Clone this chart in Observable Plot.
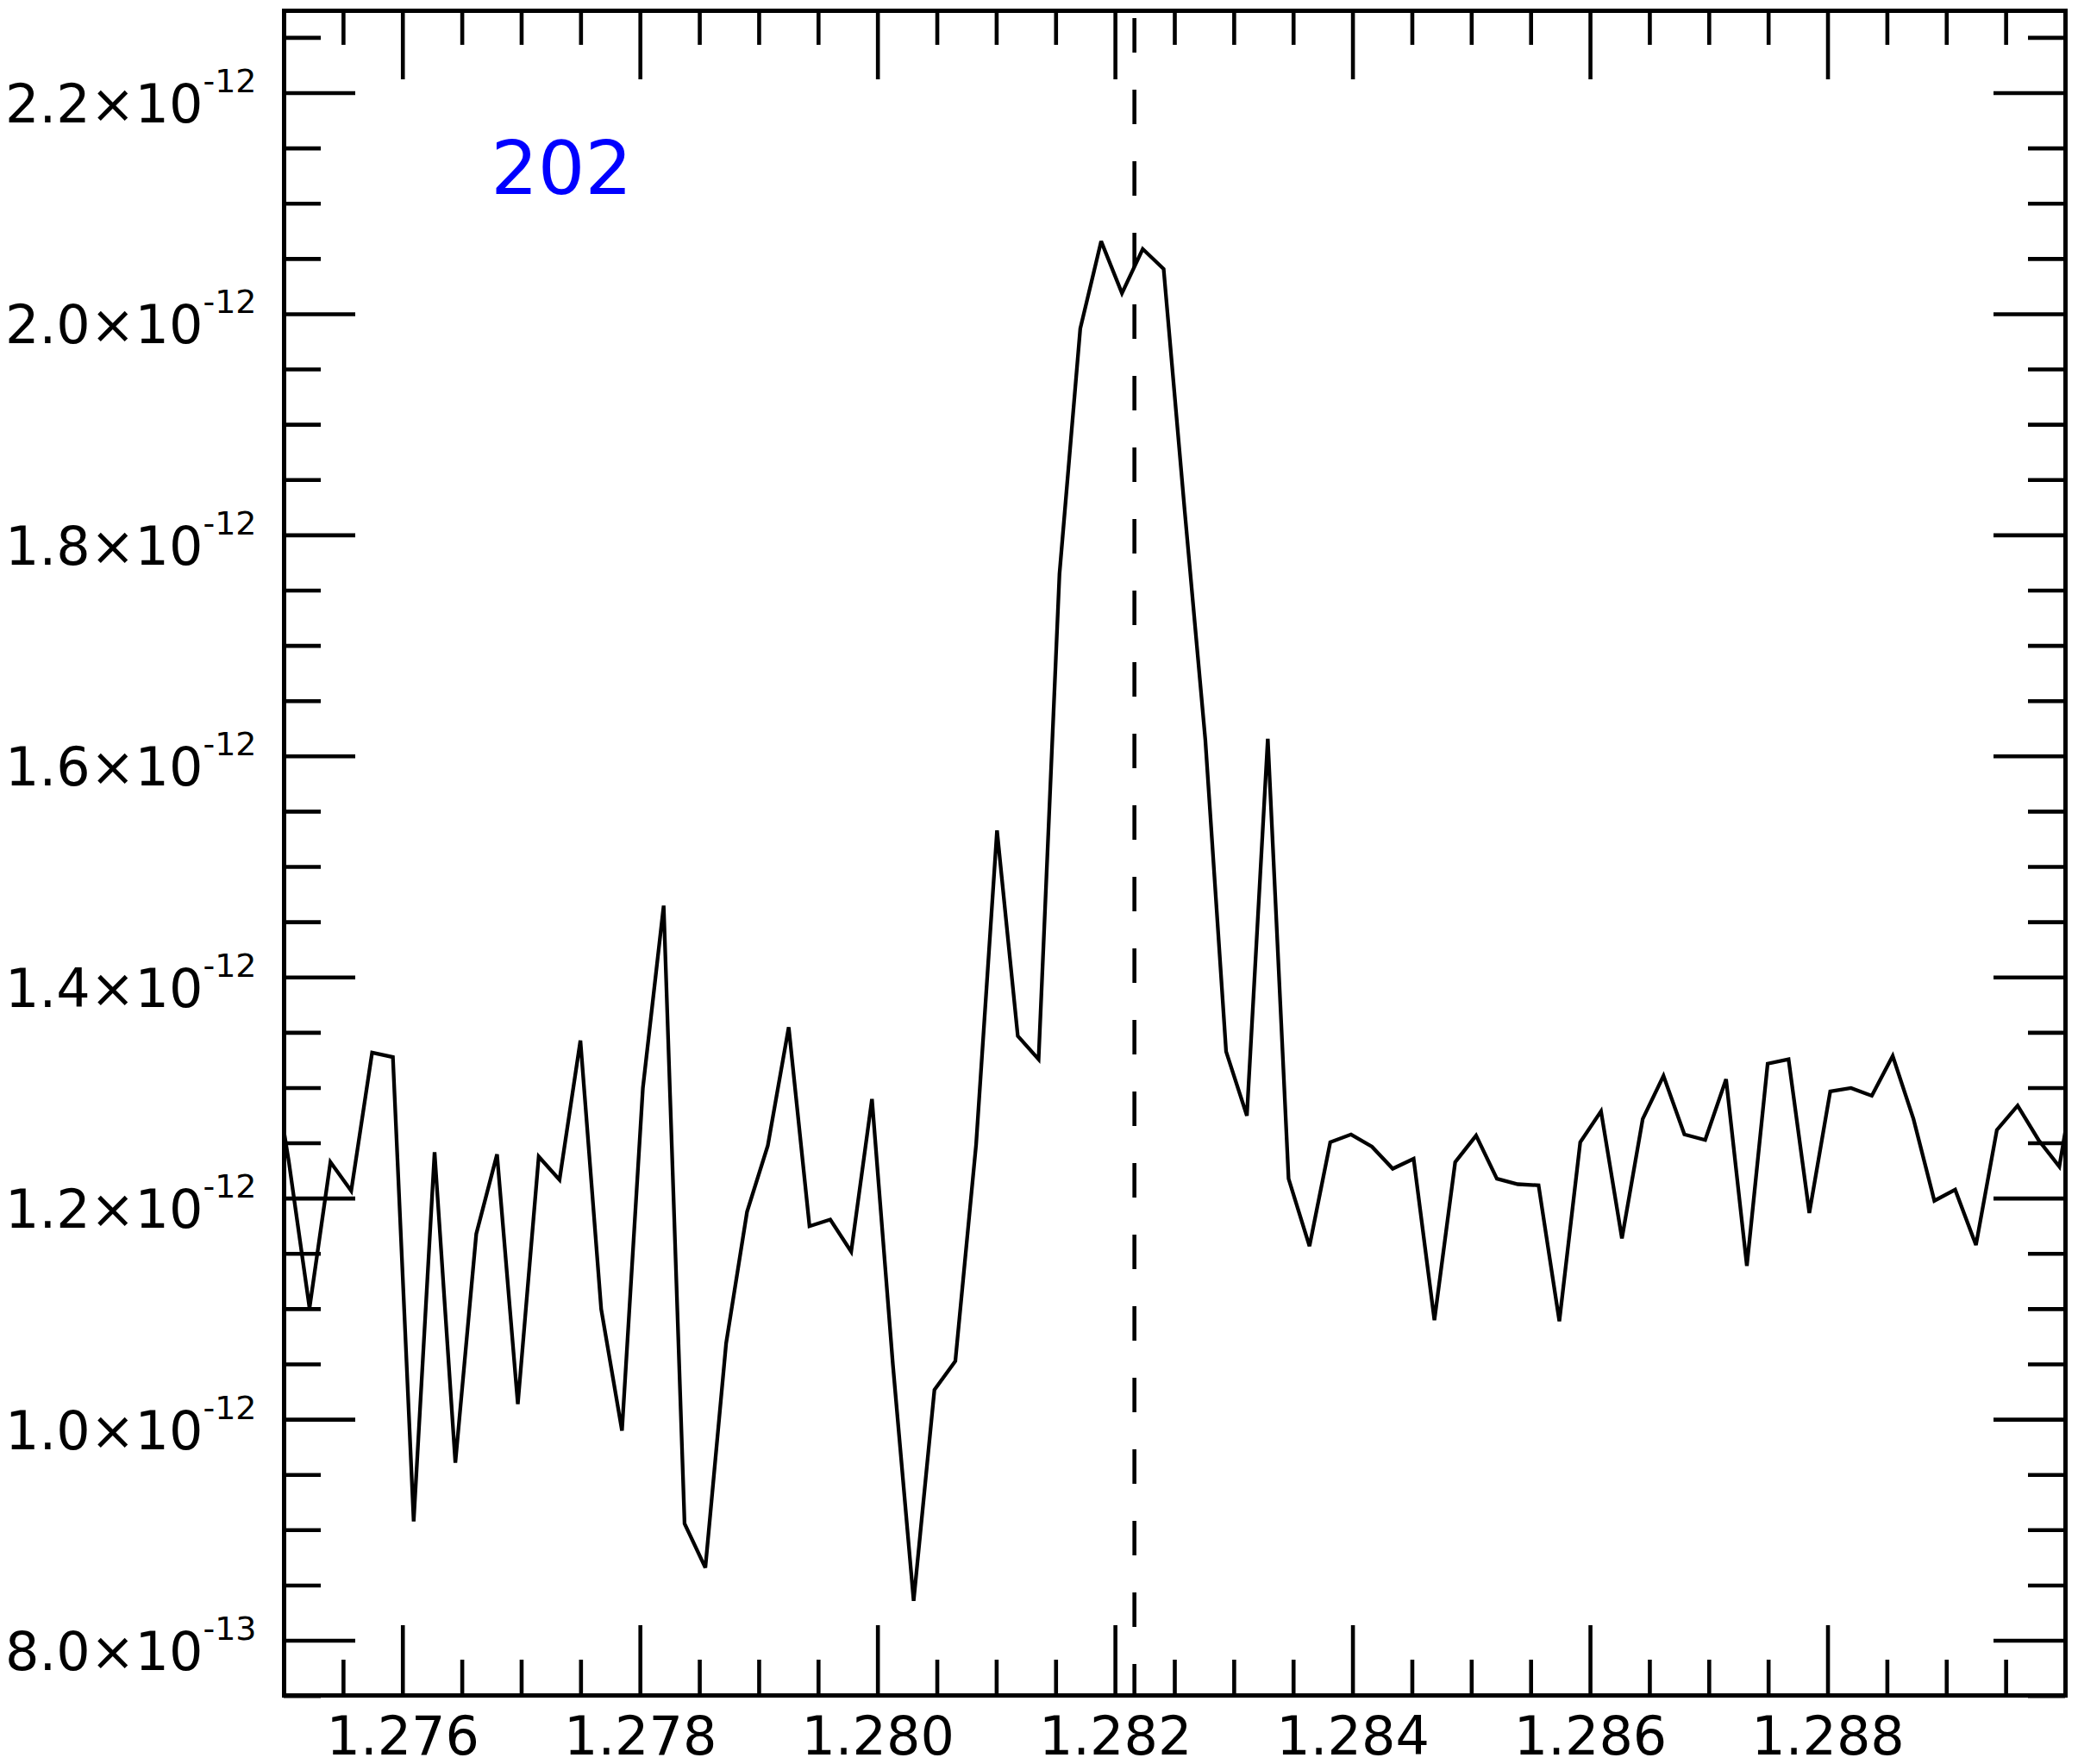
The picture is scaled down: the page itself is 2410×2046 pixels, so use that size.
<!DOCTYPE html>
<html>
<head>
<meta charset="utf-8">
<script src="https://cdn.jsdelivr.net/npm/d3@7"></script>
<script src="https://cdn.jsdelivr.net/npm/@observablehq/plot@0.6"></script>
<style>
html, body { margin: 0; padding: 0; background: #fff; }
svg { display: block; }
</style>
</head>
<body>
<div id="chart"></div>
<script>
// Wavelength (micron) of each spectral pixel
const wavelength = [
  1.274864, 1.275039, 1.275214, 1.275390, 1.275565, 1.275741, 1.275916, 1.276091, 1.276267, 1.276442,
  1.276618, 1.276793, 1.276968, 1.277144, 1.277319, 1.277495, 1.277670, 1.277845, 1.278021, 1.278196,
  1.278372, 1.278547, 1.278722, 1.278898, 1.279073, 1.279249, 1.279424, 1.279599, 1.279775, 1.279950,
  1.280126, 1.280301, 1.280476, 1.280652, 1.280827, 1.281003, 1.281178, 1.281353, 1.281529, 1.281704,
  1.281880, 1.282055, 1.282230, 1.282406, 1.282581, 1.282757, 1.282932, 1.283107, 1.283283, 1.283458,
  1.283634, 1.283809, 1.283984, 1.284160, 1.284335, 1.284511, 1.284686, 1.284861, 1.285037, 1.285212,
  1.285388, 1.285563, 1.285738, 1.285914, 1.286089, 1.286265, 1.286440, 1.286615, 1.286791, 1.286966,
  1.287142, 1.287317, 1.287492, 1.287668, 1.287843, 1.288019, 1.288194, 1.288369, 1.288545, 1.288720,
  1.288896, 1.289071, 1.289246, 1.289422, 1.289597, 1.289773, 1.289948, 1.290124
];
// Flux, in units of 1e-12
const flux = [
  1.350, 1.234, 1.101, 1.233, 1.207, 1.332, 1.328, 0.908, 1.242, 0.961,
  1.168, 1.240, 1.014, 1.238, 1.217, 1.343, 1.100, 0.990, 1.300, 1.465,
  0.906, 0.866, 1.069, 1.188, 1.248, 1.355, 1.175, 1.181, 1.152, 1.290,
  1.050, 0.836, 1.027, 1.053, 1.249, 1.533, 1.347, 1.326, 1.765, 1.987,
  2.066, 2.019, 2.059, 2.041, 1.825, 1.615, 1.333, 1.275, 1.616, 1.218,
  1.157, 1.251, 1.258, 1.247, 1.227, 1.236, 1.090, 1.233, 1.257, 1.218,
  1.213, 1.212, 1.089, 1.251, 1.279, 1.164, 1.272, 1.311, 1.258, 1.253,
  1.308, 1.139, 1.322, 1.326, 1.187, 1.297, 1.300, 1.293, 1.329, 1.272,
  1.198, 1.208, 1.158, 1.262, 1.284, 1.253, 1.229, 1.340
];

const xMajorTicks = [1.276, 1.278, 1.280, 1.282, 1.284, 1.286, 1.288];
const xTickLabels = ["1.276", "1.278", "1.280", "1.282", "1.284", "1.286", "1.288"];
const xMinorTicks = [1.2755, 1.2765, 1.2770, 1.2775, 1.2785, 1.2790, 1.2795, 1.2805, 1.2810, 1.2815,
  1.2825, 1.2830, 1.2835, 1.2845, 1.2850, 1.2855, 1.2865, 1.2870, 1.2875, 1.2885, 1.2890, 1.2895];

const yMajorTicks = [0.8, 1.0, 1.2, 1.4, 1.6, 1.8, 2.0, 2.2];
const yTickMantissas = ["8.0×10", "1.0×10", "1.2×10", "1.4×10", "1.6×10", "1.8×10", "2.0×10", "2.2×10"];
const yTickExponents = ["-13", "-12", "-12", "-12", "-12", "-12", "-12", "-12"];
const yMinorTicks = [0.75, 0.85, 0.90, 0.95, 1.05, 1.10, 1.15, 1.25, 1.30, 1.35, 1.45, 1.50, 1.55,
  1.65, 1.70, 1.75, 1.85, 1.90, 1.95, 2.05, 2.10, 2.15, 2.25];

const lineCenter = [1.28216];
const labels = [{x: 1.27674, y: 2.109, text: "202"}];

const W = 2410, H = 2046;
const mL = 329, mR = 15, mT = 12, mB = 80;
const fw = W - mL - mR, fh = H - mT - mB;
const font = "DejaVu Sans";

const data = wavelength.map((w, i) => ({w, f: flux[i]}));

const tickStyle = {stroke: "black", strokeWidth: 4.6};

const chart = Plot.plot({
  width: W,
  height: H,
  marginLeft: mL,
  marginRight: mR,
  marginTop: mT,
  marginBottom: mB,
  style: {background: "white", fontFamily: font, overflow: "visible"},
  x: {domain: [1.275, 1.290], axis: null},
  y: {domain: [0.7505, 2.2745], axis: null},
  marks: [
    // bottom ticks
    Plot.tickX(xMajorTicks, {x: d => d, insetTop: fh - 81, ...tickStyle}),
    Plot.tickX(xMinorTicks, {x: d => d, insetTop: fh - 41, ...tickStyle}),
    // top ticks
    Plot.tickX(xMajorTicks, {x: d => d, insetBottom: fh - 80, ...tickStyle}),
    Plot.tickX(xMinorTicks, {x: d => d, insetBottom: fh - 40, ...tickStyle}),
    // left ticks
    Plot.tickY(yMajorTicks, {y: d => d, insetRight: fw - 83, ...tickStyle}),
    Plot.tickY(yMinorTicks, {y: d => d, insetRight: fw - 43, ...tickStyle}),
    // right ticks
    Plot.tickY(yMajorTicks, {y: d => d, insetLeft: fw - 83, ...tickStyle}),
    Plot.tickY(yMinorTicks, {y: d => d, insetLeft: fw - 43, ...tickStyle}),
    // dashed line center
    Plot.ruleX(lineCenter, {stroke: "black", strokeWidth: 4.6, strokeDasharray: "40,43", strokeDashoffset: 74}),
    // spectrum
    Plot.line(data, {x: "w", y: "f", stroke: "black", strokeWidth: 4.3, clip: true,
      strokeLinejoin: "miter", strokeMiterlimit: 3, strokeLinecap: "butt"}),
    Plot.frame({stroke: "black", strokeWidth: 5}),
    // x tick labels
    Plot.text(xMajorTicks, {x: d => d, text: (d, i) => xTickLabels[i], frameAnchor: "bottom",
      lineAnchor: "bottom", dy: 68, fontSize: 62, fontFamily: font, fill: "black"}),
    // y tick labels: mantissa and superscript exponent
    Plot.text(yMajorTicks, {y: d => d, text: (d, i) => yTickMantissas[i], frameAnchor: "left",
      textAnchor: "end", lineAnchor: "bottom", dx: -94, dy: 34, fontSize: 62, fontFamily: font, fill: "black"}),
    Plot.text(yMajorTicks, {y: d => d, text: (d, i) => yTickExponents[i], frameAnchor: "left",
      textAnchor: "end", lineAnchor: "bottom", dx: -32, dy: -1, fontSize: 38, fontFamily: font, fill: "black"}),
    // annotation
    Plot.text(labels, {x: "x", y: "y", text: "text", fill: "#0000ff", fontSize: 86, fontFamily: font,
      textAnchor: "start", lineAnchor: "bottom"})
  ]
});

document.getElementById("chart").appendChild(chart);
</script>
</body>
</html>
